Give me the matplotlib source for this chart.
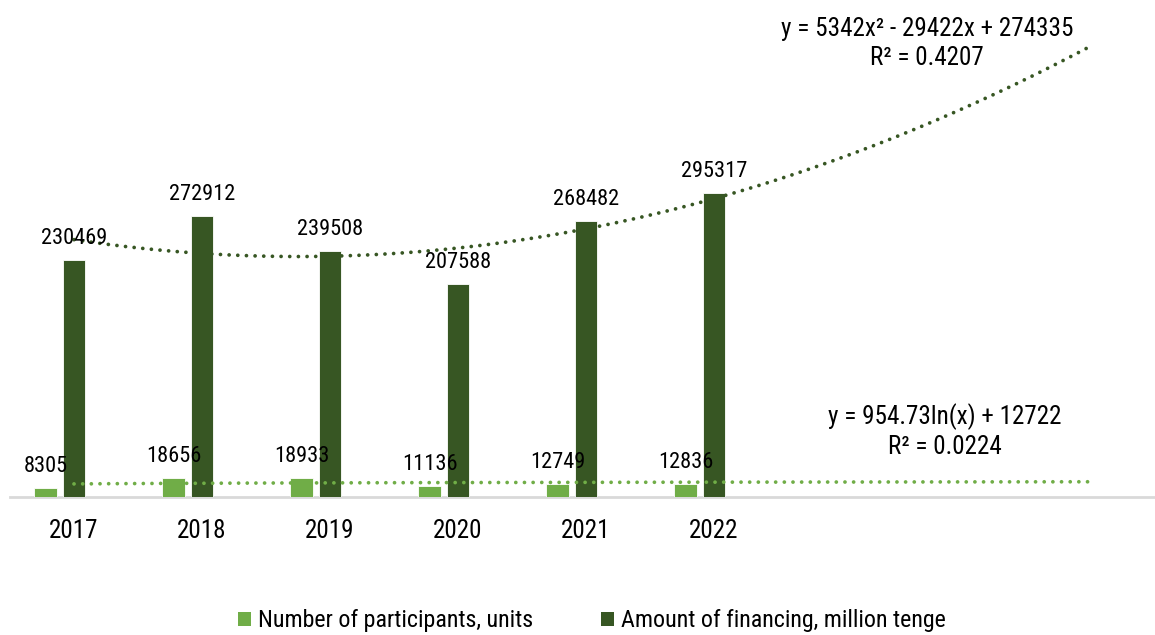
import numpy as np
import matplotlib
matplotlib.use("Agg")
import matplotlib.pyplot as plt
from matplotlib import font_manager as fm
from matplotlib.patches import Patch

# ---------------- data ----------------
years = ["2017", "2018", "2019", "2020", "2021", "2022"]
participants = [8305, 18656, 18933, 11136, 12749, 12836]
financing = [230469, 272912, 239508, 207588, 268482, 295317]
series_names = ["Number of participants, units", "Amount of financing, million tenge"]
eq_financing = "y = 5342x² - 29422x + 274335\nR² = 0.4207"
eq_participants = "y = 954.73ln(x) + 12722\nR² = 0.0224"
forecast_forward = 3

# ---------------- fonts ----------------
avail = {f.name for f in fm.fontManager.ttflist}
fam = None
for cand in ["Liberation Sans Narrow", "Arial Narrow", "Roboto Condensed", "Open Sans Condensed"]:
    if cand in avail:
        fam = cand
        break
narrow = fam is not None
if not narrow:
    fam = "Liberation Sans"
plt.rcParams["font.family"] = [fam, "DejaVu Sans"]
k = 0.95 if narrow else 0.8

LIGHT = "#70AD47"
DARK = "#375623"

W, H = 1155, 635
fig = plt.figure(figsize=(W / 100, H / 100), dpi=100)
ax_left, ax_base = 10, 497
ax = fig.add_axes([ax_left / W, (H - ax_base) / H, (W - ax_left) / W, ax_base / H])
cat_w = 128.0
n_cat_visible = (W - ax_left) / cat_w
ax.set_xlim(-0.5, n_cat_visible - 0.5)
ax.set_ylim(0, 483300)

x = np.arange(len(years))
bw = 0.176
off = 28.5 / cat_w
ax.bar(x - off, participants, width=bw, color=LIGHT, edgecolor="white", linewidth=0.6, zorder=2)
ax.bar(x, financing, width=bw, color=DARK, edgecolor="white", linewidth=0.6, zorder=2)

for xi, v in zip(x, participants):
    ax.annotate(f"{v}", (xi - off, v), xytext=(0, 11.5), textcoords="offset points",
                ha="center", va="baseline", fontsize=17 * k, color="black", zorder=5)
for xi, v in zip(x, financing):
    ax.annotate(f"{v}", (xi, v), xytext=(0, 11.5), textcoords="offset points",
                ha="center", va="baseline", fontsize=17 * k, color="black", zorder=5)

# trendlines (Excel style x = 1..n, forecast forward)
xe = np.arange(1, len(years) + 1)
c2 = np.polyfit(xe, financing, 2)
cl = np.polyfit(np.log(xe), participants, 1)
xt = np.linspace(1, len(years) + forecast_forward - 0.05, 300)
dot = (0, (0.01, 2.3))
ax.plot(xt - 1, np.polyval(c2, xt), color=DARK, lw=2.7, linestyle=dot,
        dash_capstyle="round", zorder=3)
ax.plot(xt - 1, np.polyval(cl, np.log(xt)), color=LIGHT, lw=2.7, linestyle=dot,
        dash_capstyle="round", zorder=3)

for s in ["top", "right", "left"]:
    ax.spines[s].set_visible(False)
ax.spines["bottom"].set_color("#D9D9D9")
ax.spines["bottom"].set_linewidth(2)
ax.spines["bottom"].set_zorder(1)
ax.set_yticks([])
ax.set_xticks(x)
ax.set_xticklabels(years, fontsize=19 * k)
ax.tick_params(axis="x", length=0, pad=16)

fig.text(927 / W, 1 - 43.5 / H, eq_financing, ha="center", va="center",
         fontsize=19 * k, linespacing=1.25, multialignment="center")
fig.text(945 / W, 1 - 431 / H, eq_participants, ha="center", va="center",
         fontsize=19 * k, linespacing=1.25, multialignment="center")

handles = [Patch(facecolor=LIGHT), Patch(facecolor=DARK)]
fig.legend(handles, series_names, loc="center", bbox_to_anchor=(592 / W, (H - 621) / H),
           ncol=2, frameon=False, fontsize=19 * k * 0.96, handlelength=0.55, handleheight=0.55,
           handletextpad=0.3, columnspacing=2.8, borderaxespad=0)

fig.savefig("out.png", dpi=100)
